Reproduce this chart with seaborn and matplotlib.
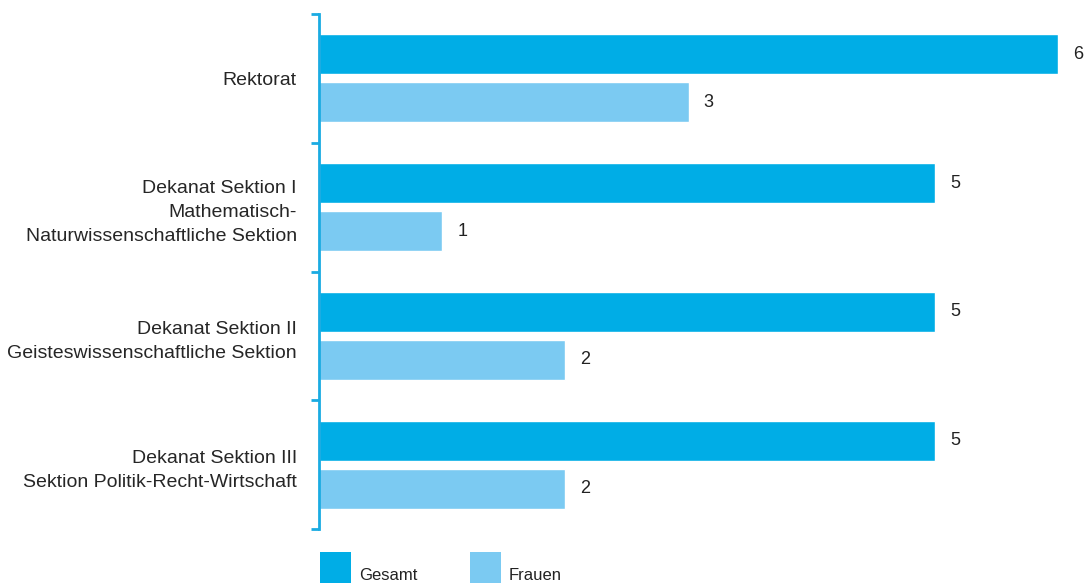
import numpy as np
import pandas as pd
import seaborn as sns
import matplotlib.pyplot as plt
from matplotlib.patches import Rectangle

categories = ['Rektorat',
              'Dekanat Sektion I\nMathematisch-\nNaturwissenschaftliche Sektion',
              'Dekanat Sektion II\nGeisteswissenschaftliche Sektion',
              'Dekanat Sektion III\nSektion Politik-Recht-Wirtschaft']
gesamt = [6, 5, 5, 5]
frauen = [3, 1, 2, 2]
series = ['Gesamt', 'Frauen']
colors = ['#00ADE6', '#7BCAF2']

df = pd.DataFrame({'kategorie': categories * 2,
                   'wert': gesamt + frauen,
                   'gruppe': ['Gesamt'] * 4 + ['Frauen'] * 4})

sns.set_style('white')
plt.rcParams['font.family'] = ['Liberation Sans', 'DejaVu Sans']
plt.rcParams['text.color'] = '#222222'

W, H = 1088, 585
fig = plt.figure(figsize=(W / 100, H / 100), dpi=100)
ax = fig.add_axes([319 / W, 1 - 529 / H, (1058 - 319) / W, (529 - 14) / H])

sns.barplot(data=df, x='wert', y='kategorie', hue='gruppe', orient='h',
            palette=colors, width=0.745, gap=0.17, legend=False, ax=ax,
            saturation=1)

for c in ax.containers:
    ax.bar_label(c, padding=11, fontsize=13, color='#222222', clip_on=False)

ax.set_xlim(0, 6)
ax.set_ylim(3.5, -0.5)
ax.set(xlabel='', ylabel='')
ax.set_xticks([])
ax.set_yticks(range(4))
ax.set_yticklabels(categories, fontsize=14, linespacing=1.55)
ax.tick_params(axis='y', which='major', length=0, pad=16)
ax.set_yticks([-0.5, 0.5, 1.5, 2.5, 3.5], minor=True)
ax.tick_params(axis='y', which='minor', left=True, length=6, width=2,
               color='#1AABE2')
for s in ['top', 'right', 'bottom']:
    ax.spines[s].set_visible(False)
ax.spines['left'].set_color('#1AABE2')
ax.spines['left'].set_linewidth(2)

# legend: squares with label at the bottom edge
for i, x0 in enumerate([320, 470]):
    fig.add_artist(Rectangle((x0 / W, 1 - 583 / H), 31 / W, 31 / H,
                             facecolor=colors[i], edgecolor='none',
                             transform=fig.transFigure))
    fig.text((x0 + 39) / W, 1 - 580 / H, series[i], fontsize=12,
             va='baseline', ha='left', color='#222222')

fig.savefig('out.png', dpi=100)
